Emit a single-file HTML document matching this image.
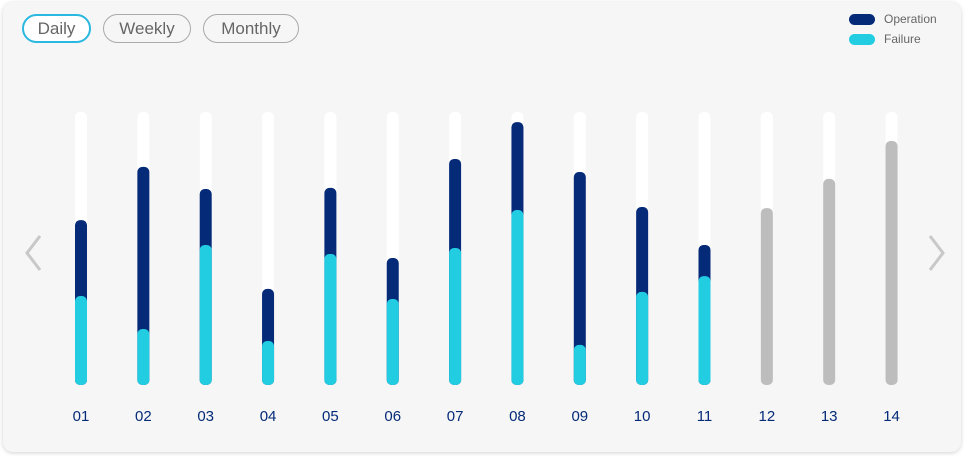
<!DOCTYPE html>
<html><head><meta charset="utf-8"><style>
body{margin:0;width:966px;height:459px;background:#fff;font-family:"Liberation Sans",sans-serif;overflow:hidden}
.card{position:absolute;left:3px;top:2px;width:958px;height:450px;background:#f6f6f6;border-radius:10px;box-shadow:0 1px 4px rgba(0,0,0,.18)}
.btn{position:absolute;top:14px;height:29px;border:1px solid #aaa;border-radius:15px;box-sizing:border-box;font-size:17px;color:#666;text-align:center;line-height:28px;background:#f6f6f6}
.leg{position:absolute;left:849px;width:26px;height:11px;border-radius:6px}
.lt{position:absolute;left:884px;font-size:12px;color:#666}
</style></head><body>
<div class="card"></div>
<div class="btn" style="left:22px;width:69px;border:2px solid #2ab8e0;background:#fff;line-height:25px">Daily</div>
<div class="btn" style="left:103px;width:88px">Weekly</div>
<div class="btn" style="left:203px;width:96px">Monthly</div>
<div class="leg" style="top:14px;background:#042a78"></div>
<div class="lt" style="top:12px">Operation</div>
<div class="leg" style="top:34px;background:#22cde2"></div>
<div class="lt" style="top:32px">Failure</div>
<svg width="966" height="459" style="position:absolute;left:0;top:0" id="chart">
<polyline points="40,236 27,253 40,270" fill="none" stroke="#c8c8c8" stroke-width="3"/>
<polyline points="930,236 943,253 930,270" fill="none" stroke="#c8c8c8" stroke-width="3"/>
</svg>
<script>
const categories=["01","02","03","04","05","06","07","08","09","10","11","12","13","14"];
const operation=[60.4,79.9,71.8,35.2,72.2,46.5,82.8,96.3,78,65.2,51.3,null,null,null];
const failure=[32.6,20.5,51.3,16.1,48,31.5,50.2,64.1,14.7,34.1,39.9,null,null,null];
const forecast=[null,null,null,null,null,null,null,null,null,null,null,64.8,75.5,89.4];
const svg=document.getElementById('chart');const NS='http://www.w3.org/2000/svg';
const top0=112,bot=385,H=bot-top0,w=12;
const x=i=>81+i*62.35, y=v=>bot-v/100*H;
function bar(i,v,color,name){const r=document.createElementNS(NS,'rect');
r.setAttribute('x',x(i)-w/2);r.setAttribute('y',y(v));r.setAttribute('width',w);r.setAttribute('height',bot-y(v));r.setAttribute('rx',5);r.setAttribute('fill',color);


svg.appendChild(r);}
categories.forEach((c,i)=>{
 bar(i,100,'#ffffff','bar-track');
 if(operation[i]!=null)bar(i,operation[i],'#042a78','bar-operation');
 if(failure[i]!=null)bar(i,failure[i],'#22cde2','bar-failure');
 if(forecast[i]!=null)bar(i,forecast[i],'#bdbdbd','bar-forecast');
 const t=document.createElementNS(NS,'text');t.setAttribute('x',x(i));t.setAttribute('y',421);t.setAttribute('text-anchor','middle');
 t.setAttribute('font-size','15');t.setAttribute('fill','#042a78');t.textContent=c;
 
 
 svg.appendChild(t);
});
</script>
</body></html>
